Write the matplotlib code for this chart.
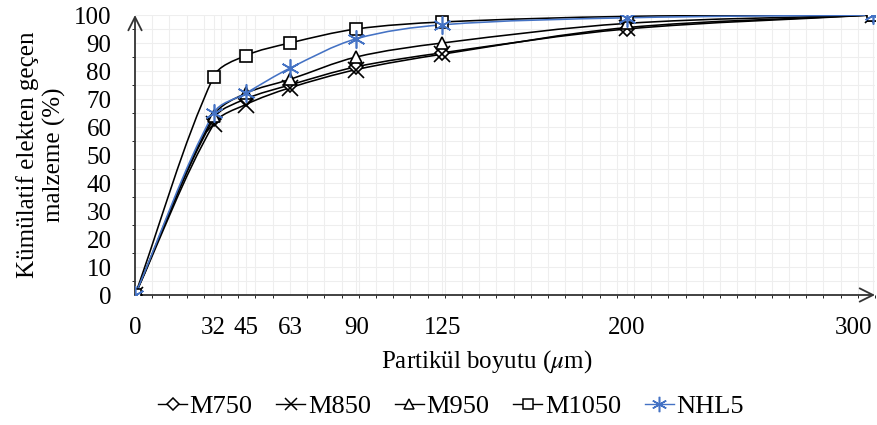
import numpy as np
import matplotlib
matplotlib.use('Agg')
from matplotlib import pyplot as plt
from matplotlib.path import Path
from matplotlib.patches import PathPatch
from matplotlib.ticker import MultipleLocator
from matplotlib.lines import Line2D

plt.rcParams['font.family'] = ['Liberation Serif', 'DejaVu Serif']
plt.rcParams['mathtext.fontset'] = 'stix'

sizes = [0, 32, 45, 63, 90, 125, 200, 300]
m750 = [0, 63, 70, 75, 81.5, 86.5, 95, 100]
m850 = [0, 61, 68, 74, 80.5, 86, 95.5, 100]
m950 = [0, 64, 72, 77, 85, 90, 97, 100]
m1050 = [0, 78, 85.5, 90, 95, 97.5, 99.5, 100]
nhl5 = [0, 65, 72, 81, 91.5, 96.5, 99, 100]

BLUE = '#4472C4'
series = [
  ('M750', m750, 'D', 7, 'black'),
  ('M850', m850, 'x', 11, 'black'),
  ('M950', m950, '^', 9, 'black'),
  ('M1050', m1050, 's', 9, 'black'),
  ('NHL5', nhl5, (6, 2, 0), 13, BLUE),
]

FS = 18
# pixel scale of the data units, used to weight the smoothing
SX, SY = 2.457, 2.8


def smooth_path(x, y):
  p = np.column_stack([x, y]).astype(float)
  n = len(p)
  scl = np.array([SX, SY])
  verts = [p[0]]
  codes = [Path.MOVETO]
  def tangent(i):
    return p[min(i + 1, n - 1)] - p[max(i - 1, 0)]
  for i in range(n - 1):
    d0 = np.linalg.norm((p[i] - p[max(i - 1, 0)]) * scl)
    d1 = np.linalg.norm((p[i + 1] - p[i]) * scl)
    d2 = np.linalg.norm((p[min(i + 2, n - 1)] - p[i + 1]) * scl)
    w0 = d1 / (d0 + d1) if d0 + d1 > 0 else 0.5
    w1 = d1 / (d1 + d2) if d1 + d2 > 0 else 0.5
    c1 = p[i] + tangent(i) * w0 / 3
    c2 = p[i + 1] - tangent(i + 1) * w1 / 3
    verts += [c1, c2, p[i + 1]]
    codes += [Path.CURVE4] * 3
  return Path(verts, codes)


fig = plt.figure(figsize=(8.78, 4.25), dpi=100)
ax = fig.add_axes([135 / 878, 130 / 425, (875 - 135) / 878, 280 / 425])

for name, vals, mk, ms, col in series:
  ax.add_patch(PathPatch(smooth_path(sizes, vals), fill=False, edgecolor=col, lw=1.15, zorder=3))
  ax.plot(sizes, vals, ls='none', marker=mk, ms=ms, mfc='white' if col == 'black' else col,
          mec=col, mew=1.2, zorder=4)

ax.set_xlim(0, 301)
ax.set_ylim(0, 100)

ax.set_xticks(sizes)
ax.set_xticklabels([str(s) for s in sizes])
ax.set_yticks(range(0, 101, 10))
ax.tick_params(axis='both', length=0, labelsize=FS, colors='black')
ax.tick_params(axis='y', pad=17)
ax.tick_params(axis='x', pad=16)
ax.get_xticklabels()[-1].set_horizontalalignment('right')

ax.xaxis.set_minor_locator(MultipleLocator(7))
ax.yaxis.set_minor_locator(MultipleLocator(5))
ax.grid(which='both', color='#eeeeee', lw=0.8)
ax.set_axisbelow(True)

for s in ax.spines.values():
  s.set_visible(False)

arrow = dict(arrowstyle='->', lw=1.3, color='#333333', mutation_scale=24, shrinkA=0, shrinkB=0)
ax.annotate('', xy=(1.0, 0), xytext=(0, 0), xycoords='axes fraction',
            arrowprops=arrow, annotation_clip=False)
ax.annotate('', xy=(0, 1.0), xytext=(0, 0), xycoords='axes fraction',
            arrowprops=arrow, annotation_clip=False)

fig.text(41 / 878, 1 - 155 / 425, 'Kümülatif elekten geçen\nmalzeme (%)', rotation=90,
         ha='center', va='center', multialignment='center', fontsize=FS, linespacing=1.25)
fig.text(487 / 878, 1 - 362 / 425, r'Partikül boyutu ($\mu$m)', ha='center', va='center',
         fontsize=FS)

handles = [Line2D([], [], color=col, lw=1.0, marker=mk, ms=ms * 0.85,
                  mfc='white' if col == 'black' else col, mec=col, mew=1.1)
           for name, vals, mk, ms, col in series]
fig.legend(handles, [s[0] for s in series], loc='center', bbox_to_anchor=(451 / 878, 19 / 425),
           ncol=5, frameon=False, fontsize=19, handlelength=1.1, handletextpad=0.1,
           columnspacing=0.9, borderaxespad=0)

fig.savefig('out.png', dpi=100)
